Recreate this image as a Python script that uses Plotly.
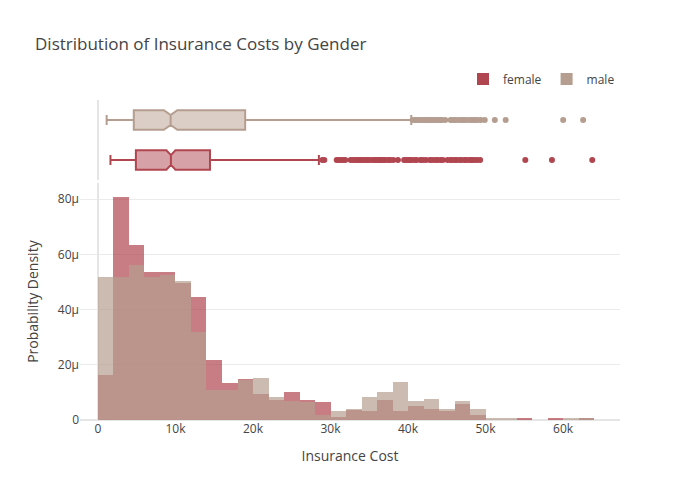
import plotly.graph_objects as go

# Histogram bins (2k wide), left edges in dollars
bin_starts = [i * 2000 for i in range(32)]

# Probability density (in micro-units, 1e-6)
female_density_u = [16.4, 80.8, 63.3, 53.5, 53.5, 49.5, 44.4, 21.5, 13.2, 14.9,
                    9.5, 7.3, 10.2, 7.3, 6.5, 1.1, 3.4, 3.3, 7.3, 3.3,
                    5.1, 4.0, 3.3, 5.8, 1.8, 0, 0, 0.76, 0, 0.76, 0, 0.76]
male_density_u = [51.6, 51.6, 56.0, 51.6, 52.4, 50.2, 31.8, 10.9, 10.9, 14.3,
                  15.3, 8.4, 6.9, 6.3, 1.9, 3.3, 4.0, 8.4, 10.2, 13.8,
                  6.9, 7.6, 4.0, 6.9, 4.0, 0.74, 0.74, 0, 0, 0, 0.74, 0.74]

# Box statistics (dollars)
female_box = dict(lowerfence=1610, q1=4890, median=9410, q3=14450, upperfence=28500, notchspan=585)
male_box = dict(lowerfence=1120, q1=4620, median=9370, q3=18990, upperfence=40420, notchspan=870)

# Outliers (dollars)
female_outliers = [28950, 29200, 30800, 31100, 31400, 31700, 31900, 32600, 32900, 33200, 33500,
                   33750, 34000, 34300, 34600, 34800, 35100, 35500, 35700, 36000, 36200, 36400,
                   36600, 36900, 37100, 37500, 37700, 38100, 38700, 39500, 39700, 40000, 40200,
                   40500, 40900, 41100, 41600, 41900, 42300, 42800, 43100, 43500, 43800, 44200,
                   44500, 45100, 45500, 45700, 46100, 46200, 46600, 46900, 47300, 47500, 47900,
                   48200, 48500, 48900, 49300, 55135, 58571, 63770]
male_outliers = [40600, 40900, 41100, 41400, 41700, 41900, 42100, 42300, 42600, 42800, 43000,
                 43300, 43600, 43900, 44200, 44400, 44800, 45500, 45700, 46000, 46200, 46600,
                 46900, 47200, 47500, 47900, 48200, 48500, 48700, 49000, 49400, 49900, 51200,
                 52600, 60021, 62593]

groups = ["female", "male"]
colors = {"female": "#B04650", "male": "#B59E90"}
density = {"female": female_density_u, "male": male_density_u}
boxes = {"female": female_box, "male": male_box}
outliers = {"female": female_outliers, "male": male_outliers}
box_pos = {"female": -0.25, "male": 0.25}

fig = go.Figure()
for g in groups:
    fig.add_trace(go.Bar(
        x=bin_starts, y=[v * 1e-6 for v in density[g]], offset=0, width=2000,
        marker=dict(color=colors[g], line=dict(width=0), opacity=0.7),
        name=g, legendgroup=g, xaxis="x", yaxis="y"))
for g in groups:
    b = boxes[g]
    fig.add_trace(go.Box(
        y=[box_pos[g]], orientation="h", q1=[b["q1"]], median=[b["median"]], q3=[b["q3"]],
        lowerfence=[b["lowerfence"]], upperfence=[b["upperfence"]], notchspan=[b["notchspan"]],
        notched=True, width=0.245, marker_color=colors[g], line=dict(color=colors[g]),
        name=g, legendgroup=g, showlegend=False, xaxis="x2", yaxis="y2", hoverinfo="skip"))
    fig.add_trace(go.Scatter(
        x=outliers[g], y=[box_pos[g]] * len(outliers[g]), mode="markers",
        marker=dict(color=colors[g], size=6), name=g, legendgroup=g, showlegend=False,
        xaxis="x2", yaxis="y2"))

fig.update_layout(
    template="plotly_white",
    width=700, height=500,
    font=dict(family="Open Sans, verdana, arial, sans-serif", color="#444"),
    title=dict(text="Distribution of Insurance Costs by Gender"),
    barmode="overlay",
    bargap=0,
    legend=dict(orientation="h", yanchor="bottom", y=1.02, xanchor="right", x=1),
    xaxis=dict(domain=[0, 1], range=[-2320, 67350], title=dict(text="Insurance Cost"),
               showgrid=False, zeroline=True, zerolinecolor="#E5E5E5", zerolinewidth=2,
               anchor="y"),
    yaxis=dict(domain=[0, 0.74], range=[0, 85.8e-6], title=dict(text="Probability Density"),
               gridcolor="#EBEBEB", zerolinecolor="#E5E5E5", zerolinewidth=2),
    xaxis2=dict(domain=[0, 1], matches="x", showticklabels=False, showgrid=False,
                zeroline=True, zerolinecolor="#E5E5E5", zerolinewidth=2, anchor="y2"),
    yaxis2=dict(domain=[0.75, 1], range=[-0.5, 0.5], showticklabels=False, showgrid=False,
                zeroline=False),
)

fig.write_html("out.html", config={"displayModeBar": False},
               post_script="document.body.style.margin='0px';")
